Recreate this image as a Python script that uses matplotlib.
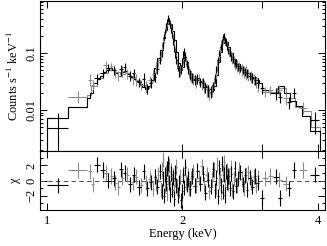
import matplotlib
matplotlib.use("Agg")
import matplotlib.pyplot as plt
from matplotlib.ticker import FixedLocator, NullLocator, LogLocator, NullFormatter

plt.rcParams['font.family'] = ['Liberation Serif', 'DejaVu Serif']
plt.rcParams['mathtext.fontset'] = 'stix'
plt.rcParams['font.size'] = 9

# ---- model (black), step edges in keV and counts/s/keV per bin
blk_edges = [1.000, 1.113, 1.227, 1.246, 1.265, 1.291, 1.311, 1.332, 1.352, 1.373,
             1.394, 1.416, 1.438, 1.460, 1.483, 1.506, 1.529, 1.553, 1.577, 1.601,
             1.626, 1.651, 1.676, 1.702, 1.729, 1.755, 1.783, 1.810, 1.829, 1.848,
             1.862, 1.876, 1.895, 1.915, 1.934, 1.954, 1.975, 1.995, 2.015, 2.036,
             2.057, 2.078, 2.110, 2.143, 2.176, 2.210, 2.244, 2.278, 2.314, 2.350,
             2.374, 2.398, 2.423, 2.448, 2.473, 2.498, 2.524, 2.550, 2.589, 2.630,
             2.684, 2.739, 2.796, 2.854, 2.912, 2.958, 3.003, 3.129, 3.260, 3.361,
             3.466, 3.574, 3.685, 3.839, 4.040]
blk_model = [0.0072, 0.0113, 0.0162, 0.0199, 0.0298, 0.0350, 0.0395, 0.0464, 0.0503, 0.0545,
             0.0503, 0.0446, 0.0395, 0.0464, 0.0483, 0.0428, 0.0379, 0.0350, 0.0323, 0.0286,
             0.0253, 0.0234, 0.0264, 0.0336, 0.0545, 0.0817, 0.113, 0.183, 0.253, 0.323,
             0.364, 0.323, 0.243, 0.169, 0.104, 0.0668, 0.0503, 0.0568, 0.0851, 0.0695,
             0.0503, 0.0411, 0.0350, 0.0336, 0.0323, 0.0298, 0.0264, 0.0234, 0.0224, 0.0264,
             0.0411, 0.0695, 0.104, 0.150, 0.176, 0.156, 0.127, 0.100, 0.0785, 0.0641,
             0.0545, 0.0483, 0.0428, 0.0379, 0.0336, 0.0298, 0.0224, 0.0199, 0.0264, 0.0199,
             0.0144, 0.0118, 0.00785, 0.00428]

# ---- model (grey)
gry_edges = [1.000, 1.113, 1.227, 1.255, 1.29, 1.33, 1.37, 1.41, 1.45, 1.49,
             1.53, 1.57, 1.61, 1.65, 1.69, 1.72, 1.75, 1.78, 1.80, 1.82,
             1.84, 1.86, 1.88, 1.90, 1.92, 1.94, 1.96, 1.98, 2.00, 2.02,
             2.04, 2.06, 2.09, 2.13, 2.18, 2.23, 2.28, 2.32, 2.35, 2.37,
             2.39, 2.41, 2.43, 2.45, 2.47, 2.49, 2.51, 2.54, 2.58, 2.63,
             2.70, 2.78, 2.86, 2.94, 3.00, 3.10, 3.25, 3.40, 3.55, 3.70,
             3.85, 4.04]
gry_model = [0.0072, 0.0113, 0.0180, 0.0260, 0.036, 0.045, 0.051, 0.046, 0.043, 0.044,
             0.038, 0.033, 0.028, 0.025, 0.031, 0.045, 0.070, 0.105, 0.150, 0.230,
             0.320, 0.350, 0.280, 0.190, 0.120, 0.075, 0.055, 0.055, 0.075, 0.080,
             0.062, 0.048, 0.039, 0.034, 0.032, 0.027, 0.023, 0.023, 0.030, 0.048,
             0.075, 0.110, 0.150, 0.170, 0.165, 0.140, 0.115, 0.090, 0.072, 0.060,
             0.051, 0.044, 0.037, 0.030, 0.022, 0.021, 0.024, 0.016, 0.0115, 0.0095,
             0.0050]

# ---- black data: energy, half width, rate, error
blk_e = [1.058, 1.29, 1.33, 1.37, 1.41, 1.46, 1.49, 1.53, 1.56, 1.60, 1.64, 1.67, 1.70,
         1.74, 1.76, 1.78, 1.80, 1.81, 1.82, 1.83, 1.84, 1.85, 1.86,
         1.87, 1.88, 1.89, 1.90, 1.91, 1.92, 1.93, 1.94, 1.955, 1.97,
         1.985, 2.00, 2.01, 2.02, 2.03, 2.045, 2.06, 2.08, 2.10, 2.13,
         2.16, 2.19, 2.22, 2.25, 2.28, 2.31, 2.34, 2.36, 2.38, 2.40,
         2.415, 2.43, 2.445, 2.46, 2.47, 2.485, 2.50, 2.515, 2.53, 2.55,
         2.57, 2.59, 2.61, 2.63, 2.66, 2.69, 2.72, 2.75, 2.78, 2.82,
         2.86, 2.90, 2.94,
         3.00, 3.22, 3.30, 3.45, 3.54, 3.93]
blk_de = [0.056, 0.020, 0.015, 0.015, 0.015, 0.015, 0.012, 0.015, 0.012, 0.015, 0.012, 0.012, 0.012,
          0.010, 0.010, 0.010, 0.005, 0.005, 0.005, 0.005, 0.005, 0.005, 0.005,
          0.005, 0.005, 0.005, 0.005, 0.005, 0.005, 0.005, 0.006, 0.008, 0.008,
          0.008, 0.007, 0.005, 0.005, 0.006, 0.008, 0.008, 0.010, 0.012, 0.015,
          0.015, 0.015, 0.015, 0.015, 0.015, 0.012, 0.010, 0.008, 0.008, 0.008,
          0.007, 0.007, 0.007, 0.007, 0.006, 0.007, 0.007, 0.007, 0.008, 0.010,
          0.010, 0.010, 0.010, 0.012, 0.015, 0.015, 0.015, 0.015, 0.015, 0.020,
          0.020, 0.020, 0.020,
          0.030, 0.050, 0.035, 0.040, 0.040, 0.100]
blk_y = [0.0048, 0.036, 0.045, 0.055, 0.050, 0.052, 0.056, 0.040, 0.044, 0.031, 0.035, 0.024, 0.030,
         0.038, 0.052, 0.075, 0.10, 0.14, 0.19, 0.24, 0.30, 0.36, 0.42,
         0.37, 0.31, 0.26, 0.21, 0.16, 0.12, 0.095, 0.075, 0.058, 0.047,
         0.052, 0.070, 0.095, 0.105, 0.085, 0.065, 0.052, 0.042, 0.037, 0.034,
         0.036, 0.031, 0.030, 0.025, 0.022, 0.021, 0.026, 0.036, 0.052, 0.075,
         0.10, 0.13, 0.16, 0.19, 0.20, 0.17, 0.15, 0.13, 0.11, 0.10,
         0.085, 0.078, 0.068, 0.065, 0.058, 0.055, 0.050, 0.047, 0.045, 0.040,
         0.037, 0.034, 0.030,
         0.024, 0.0196, 0.017, 0.0136, 0.0200, 0.0066]
blk_dy = [0.0041, 0.007, 0.008, 0.009, 0.009, 0.009, 0.010, 0.008, 0.008, 0.006, 0.010, 0.005, 0.006,
          0.007, 0.009, 0.011, 0.014, 0.018, 0.024, 0.028, 0.034, 0.040, 0.050,
          0.042, 0.036, 0.031, 0.026, 0.021, 0.017, 0.014, 0.012, 0.010, 0.009,
          0.010, 0.012, 0.015, 0.016, 0.014, 0.011, 0.010, 0.008, 0.007, 0.007,
          0.007, 0.006, 0.006, 0.005, 0.005, 0.005, 0.005, 0.006, 0.008, 0.010,
          0.013, 0.016, 0.019, 0.022, 0.023, 0.020, 0.018, 0.016, 0.014, 0.013,
          0.012, 0.011, 0.010, 0.010, 0.009, 0.009, 0.008, 0.008, 0.008, 0.007,
          0.007, 0.006, 0.006,
          0.005, 0.0045, 0.004, 0.003, 0.004, 0.0028]
blk_chi = [-0.6, 2.1, 1.4, 0.0, 0.3, 1.5, 1.0, -0.5, 0.8, -0.9, 1.2, -1.0, -0.2,
           0.5, -0.8, 1.2, -1.5, 0.3, -2.0, 0.8, -0.4, 1.6, 2.3,
           -0.2, -1.8, 0.9, -1.2, 0.4, -2.4, 1.1, -0.6, -1.9, -0.3,
           -2.6, -1.4, 0.7, -0.9, 1.8, -0.5, 0.2, -1.1, 0.6, -0.7,
           1.3, -0.4, 0.9, -1.6, 0.1, -0.8, 1.5, -1.3, 0.4, -2.1,
           1.7, -0.6, 2.2, -1.5, 0.8, -1.9, 1.2, -0.3, 0.6, -1.0,
           0.9, -1.4, 1.6, -0.7, 0.3, 1.1, -0.5, 0.7, -1.2, 0.4,
           -0.8, 0.6, -0.3,
           -2.3, 0.5, -2.3, -1.0, 1.4, 0.8]

# ---- grey data
gry_e = [1.17, 1.245, 1.265, 1.35, 1.39, 1.42, 1.44, 1.47, 1.51, 1.55, 1.58, 1.62, 1.66, 1.69, 1.72, 1.745,
         1.765, 1.79, 1.805, 1.815, 1.825, 1.835, 1.845, 1.855, 1.865, 1.875,
         1.885, 1.895, 1.905, 1.915, 1.925, 1.935, 1.95, 1.965, 1.98, 1.995,
         2.005, 2.025, 2.04, 2.055, 2.07, 2.09, 2.115, 2.145, 2.175, 2.205,
         2.235, 2.265, 2.295, 2.33, 2.35, 2.37, 2.39, 2.41, 2.425, 2.44,
         2.455, 2.475, 2.49, 2.51, 2.525, 2.54, 2.56, 2.58, 2.60, 2.62,
         2.645, 2.675, 2.705, 2.735, 2.765, 2.80, 2.84, 2.88, 2.92, 2.95,
         3.05, 3.13, 3.28, 3.40, 3.70]
gry_de = [0.057, 0.012, 0.010, 0.015, 0.012, 0.012, 0.010, 0.012, 0.012, 0.012, 0.012, 0.012, 0.012, 0.010, 0.010, 0.010,
          0.008, 0.008, 0.005, 0.005, 0.005, 0.005, 0.005, 0.005, 0.005, 0.005,
          0.005, 0.005, 0.005, 0.005, 0.005, 0.006, 0.008, 0.008, 0.008, 0.006,
          0.006, 0.008, 0.008, 0.008, 0.008, 0.010, 0.012, 0.015, 0.015, 0.015,
          0.015, 0.015, 0.015, 0.012, 0.008, 0.008, 0.008, 0.008, 0.007, 0.007,
          0.007, 0.008, 0.007, 0.008, 0.008, 0.008, 0.010, 0.010, 0.010, 0.010,
          0.012, 0.015, 0.015, 0.015, 0.015, 0.018, 0.020, 0.020, 0.020, 0.012,
          0.040, 0.040, 0.050, 0.050, 0.080]
gry_y = [0.0172, 0.034, 0.028, 0.062, 0.058, 0.046, 0.040, 0.048, 0.044, 0.036, 0.034, 0.028, 0.026, 0.033, 0.042, 0.060,
         0.070, 0.090, 0.12, 0.16, 0.22, 0.27, 0.33, 0.37, 0.36, 0.33,
         0.28, 0.23, 0.18, 0.14, 0.11, 0.085, 0.065, 0.050, 0.048, 0.062,
         0.080, 0.090, 0.072, 0.055, 0.047, 0.040, 0.036, 0.032, 0.035, 0.029,
         0.027, 0.023, 0.020, 0.023, 0.030, 0.044, 0.063, 0.088, 0.115, 0.14,
         0.17, 0.18, 0.16, 0.14, 0.12, 0.105, 0.090, 0.082, 0.072, 0.066,
         0.060, 0.056, 0.052, 0.048, 0.046, 0.042, 0.039, 0.035, 0.031, 0.027,
         0.021, 0.022, 0.0224, 0.016, 0.0110]
gry_dy = [0.0040, 0.008, 0.006, 0.011, 0.010, 0.009, 0.008, 0.010, 0.009, 0.008, 0.008, 0.006, 0.006, 0.007, 0.009, 0.012,
          0.013, 0.016, 0.020, 0.025, 0.032, 0.038, 0.045, 0.050, 0.048, 0.044,
          0.038, 0.032, 0.026, 0.021, 0.018, 0.015, 0.012, 0.010, 0.010, 0.012,
          0.015, 0.016, 0.013, 0.011, 0.010, 0.009, 0.008, 0.008, 0.008, 0.007,
          0.007, 0.006, 0.005, 0.006, 0.007, 0.009, 0.012, 0.015, 0.018, 0.021,
          0.025, 0.026, 0.024, 0.022, 0.020, 0.020, 0.018, 0.017, 0.016, 0.015,
          0.014, 0.014, 0.013, 0.012, 0.012, 0.010, 0.009, 0.008, 0.007, 0.006,
          0.004, 0.004, 0.0045, 0.004, 0.0026]
gry_chi = [1.4, 1.2, -0.5, 1.0, 0.6, -0.3, -0.9, 0.4, 0.8, -0.2, 0.5, -0.6, -0.3, 0.2, -1.1, -0.4,
           0.8, -1.2, 1.5, 2.8, -0.6, 1.1, -1.7, 0.4, 2.0, -0.9,
           1.3, -0.4, 0.7, -1.5, 0.2, 1.8, -0.8, -1.3, 0.5, -2.2,
           0.9, 1.6, -0.3, 0.6, -1.1, 0.3, 1.2, -0.7, 0.4, 1.9,
           -0.5, 0.8, -1.4, 0.2, 1.4, -0.9, 2.1, -0.2, 0.7, -1.6,
           1.0, 2.4, -0.8, 1.3, -0.4, 0.6, 1.7, -1.2, 0.3, 0.9,
           -0.6, 1.5, 0.2, -1.0, 0.8, 1.1, -0.3, 0.5, -0.7, 0.4,
           0.3, 0.6, 0.1, -0.4, 1.4]

GREY = '#8c8c8c'
LW = 0.8

fig = plt.figure(figsize=(3.27, 2.46), dpi=100)
ax = fig.add_axes([0.122, 0.386, 0.872, 0.610])
axr = fig.add_axes([0.122, 0.146, 0.872, 0.240], sharex=ax)

# upper panel: spectrum
ax.errorbar(gry_e, gry_y, xerr=gry_de, yerr=gry_dy, fmt='none', ecolor=GREY, elinewidth=LW, capsize=0)
ax.stairs(gry_model, gry_edges, color=GREY, lw=LW)
ax.errorbar(blk_e, blk_y, xerr=blk_de, yerr=blk_dy, fmt='none', ecolor='black', elinewidth=LW, capsize=0)
ax.stairs(blk_model, blk_edges, color='black', lw=LW)

ax.set_xscale('log')
ax.set_yscale('log')
ax.set_xlim(0.965, 4.146)
ax.set_ylim(0.0019, 0.82)
ax.set_ylabel(r'Counts s$^{-1}$ keV$^{-1}$')
ax.yaxis.set_label_coords(-0.065, 0.5)
ax.yaxis.set_major_locator(FixedLocator([0.01, 0.1]))
ax.set_yticklabels(['0.01', '0.1'])
ax.yaxis.set_minor_locator(LogLocator(base=10, subs=range(2, 10)))
ax.yaxis.set_minor_formatter(NullFormatter())

# lower panel: residuals
axr.axhline(0, color='#555555', lw=LW, ls=(0, (4, 3)))
axr.errorbar(gry_e, gry_chi, xerr=gry_de, yerr=1, fmt='none', ecolor=GREY, elinewidth=LW, capsize=0)
axr.errorbar(blk_e, blk_chi, xerr=blk_de, yerr=1, fmt='none', ecolor='black', elinewidth=LW, capsize=0)
axr.set_ylim(-3.9, 3.9)
axr.set_ylabel('χ')
axr.yaxis.set_label_coords(-0.065, 0.5)
axr.yaxis.set_major_locator(FixedLocator([-2, 0, 2]))
axr.set_yticklabels(['−2', '0', '2'])
axr.yaxis.set_minor_locator(FixedLocator([-3, -1, 1, 3]))
axr.set_xlabel('Energy (keV)', labelpad=1)

axr.xaxis.set_major_locator(FixedLocator([1, 2, 3, 4]))
axr.xaxis.set_minor_locator(NullLocator())
axr.set_xticklabels(['1', '2', '', '4'])
plt.setp(ax.get_xticklabels(), visible=False)

for a in (ax, axr):
    a.tick_params(which='both', direction='in', top=True, right=True, width=0.7)
    a.tick_params(which='major', length=5)
    a.tick_params(which='minor', length=2.5)
    a.tick_params(axis='y', labelrotation=90, pad=2)
    for t in a.get_yticklabels():
        t.set_va('center')
    for s in a.spines.values():
        s.set_linewidth(0.8)

fig.savefig('out.png', dpi=100)
